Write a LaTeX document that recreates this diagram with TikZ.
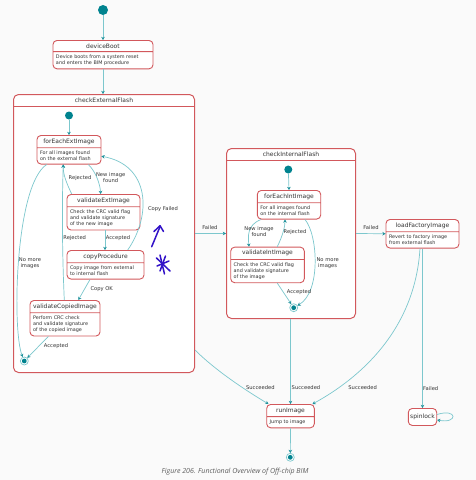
\documentclass[tikz,border=0pt]{standalone}
\usepackage{fontspec}
\setsansfont{DejaVu Sans}
\newfontfamily\capfont{Open Sans}
\usetikzlibrary{arrows.meta,positioning,shapes.multipart}
\definecolor{boxred}{HTML}{D2585C}
\definecolor{tealline}{HTML}{7CC7CD}
\definecolor{tealtip}{HTML}{1F929C}
\definecolor{tealdot}{HTML}{00838F}
\definecolor{pen}{HTML}{3212C8}
\definecolor{bggrey}{HTML}{FAFAFA}
\definecolor{txtgrey}{HTML}{333333}
\newcommand{\sttitle}[1]{{\fontsize{6}{7}\selectfont #1}}

\begin{document}
\begin{tikzpicture}[
  x=1pt, y=-1pt,
  stbox/.style={rectangle split, rectangle split parts=2, draw=boxred, line width=0.9pt,
    rounded corners=4pt, fill=white, rectangle split part align={center,left}, align=left,
    inner xsep=3pt, inner ysep=2.8pt, text=txtgrey, font=\sffamily\fontsize{4.9}{6}\selectfont},
  cont/.style={rectangle, draw=boxred, line width=1pt, rounded corners=5pt, fill=white},
  ctitle/.style={inner sep=0pt, text=txtgrey, font=\sffamily\fontsize{6}{7}\selectfont},
  startdot/.style={circle, fill=tealdot, inner sep=0pt, minimum size=#1},
  startdot/.default=8pt,
  enddot/.style={circle, draw=tealline, line width=0.7pt, fill=white, inner sep=0pt, minimum size=8pt,
    path picture={\fill[tealdot] (path picture bounding box.center) circle (2.4pt);}},
  arr/.style={draw=tealline, line width=0.7pt, -{Stealth[length=3.2pt, width=3.6pt, color=tealtip]}},
  lbl/.style={inner sep=0pt, align=center, text=txtgrey, font=\sffamily\fontsize{5.2}{6}\selectfont},
]
  \useasboundingbox[fill=bggrey] (0,0) rectangle (476,480);

  % outer states
  \node[startdot=10pt] (topInit) at (103,10) {};
  \node[stbox, minimum width=100pt, anchor=north] (deviceBoot) at (103,40)
    {\sttitle{deviceBoot}\nodepart{two}Device boots from a system reset\\and enters the BIM procedure};

  \node[cont, minimum width=181pt, minimum height=278pt, anchor=north west] (extFlash) at (13,94) {};
  \node[ctitle] (extTitle) at ([yshift=-6pt]extFlash.north) {checkExternalFlash};
  \draw[boxred, line width=1pt] ([yshift=-12pt]extFlash.north west) -- ([yshift=-12pt]extFlash.north east);

  \node[cont, minimum width=129pt, minimum height=170pt, anchor=north west] (intFlash) at (226,148) {};
  \node[ctitle] (intTitle) at ([yshift=-6pt]intFlash.north) {checkInternalFlash};
  \draw[boxred, line width=1pt] ([yshift=-12pt]intFlash.north west) -- ([yshift=-12pt]intFlash.north east);

  \node[stbox, minimum width=73pt, anchor=north] (load) at (422.5,219)
    {\sttitle{loadFactoryImage}\nodepart{two}Revert to factory image\\from external flash};
  \node[rectangle, draw=boxred, line width=0.9pt, rounded corners=4pt, fill=white, text=txtgrey,
    minimum width=28.4pt, minimum height=17pt, inner sep=1pt, font=\sffamily\fontsize{6}{7}\selectfont,
    anchor=north] (spinlock) at (422.5,408) {spinlock};
  \node[stbox, minimum width=47.6pt, anchor=north] (runImg) at (290.5,404)
    {\sttitle{runImage}\nodepart{two}Jump to image};
  \node[enddot] (endFinal) at (290.3,457.3) {};

  % inside checkExternalFlash
  \node[startdot] (extInit) at (69,115.5) {};
  \node[stbox, minimum width=64pt, anchor=north] (forExt) at (69,135)
    {\sttitle{forEachExtImage}\nodepart{two}For all images found\\on the external flash};
  \node[stbox, minimum width=73pt, anchor=north] (valExt) at (103.5,194)
    {\sttitle{validateExtImage}\nodepart{two}Check the CRC valid flag\\and validate signature\\of the new image};
  \node[stbox, minimum width=77pt, anchor=north] (copyProc) at (105.5,250)
    {\sttitle{copyProcedure}\nodepart{two}Copy image from external\\to internal flash};
  \node[stbox, minimum width=70pt, anchor=north] (valCopied) at (65,300)
    {\sttitle{validateCopiedImage}\nodepart{two}Perform CRC check\\and validate signature\\of the copied image};
  \node[enddot] (extFinal) at (24.3,361) {};

  % inside checkInternalFlash
  \node[startdot] (intInit) at (288.3,169.5) {};
  \node[stbox, minimum width=63.4pt, anchor=north] (forInt) at (289,190)
    {\sttitle{forEachIntImage}\nodepart{two}For all images found\\on the internal flash};
  \node[stbox, minimum width=73.6pt, anchor=north] (valInt) at (267.5,246.7)
    {\sttitle{validateIntImage}\nodepart{two}Check the CRC valid flag\\and validate signature\\of the image};
  \node[enddot] (intFinal) at (293.7,307.7) {};

  % transitions
  \draw[arr] (topInit) -- (deviceBoot.north);
  \draw[arr] (deviceBoot.south) -- (deviceBoot.south |- extFlash.north);
  \draw[arr] (extInit) -- (forExt.north);
  \draw[arr] ([xshift=19.3pt]forExt.south) .. controls (96,172) and (100,184) .. ([xshift=-2.8pt]valExt.north);
  \draw[arr] ([xshift=-31.8pt]valExt.north) .. controls (67,184) and (63,175) .. ([xshift=-5.7pt]forExt.south);
  \draw[arr] ([xshift=1.5pt]valExt.south) -- ([xshift=1.5pt]valExt.south |- copyProc.north);
  \draw[arr] ([xshift=22.2pt]copyProc.north) .. controls (152,215) and (150,165) .. ([yshift=-6.5pt]forExt.east);
  \draw[arr] ([xshift=-15.5pt]copyProc.south) -- ([xshift=13.3pt]valCopied.north);
  \draw[arr] ([xshift=-0.7pt]valCopied.north) .. controls (62,250) and (62,200) .. ([xshift=-5.7pt]forExt.south);
  \draw[arr] ([xshift=-22.3pt]forExt.south) .. controls (15,185) and (12,330) .. (extFinal);
  \draw[arr] ([xshift=-16.7pt]valCopied.south) -- (extFinal);
  \draw[arr] (extFlash.east |- intFlash.west) -- (intFlash.west);
  \draw[arr] (intInit) -- (forInt.north);
  \draw[arr] ([xshift=-28pt]forInt.south) .. controls (247,225) and (248,236) .. ([xshift=-18.5pt]valInt.north);
  \draw[arr] ([xshift=9.8pt]valInt.north) .. controls (283,235) and (285,226) .. ([xshift=-4pt]forInt.south);
  \draw[arr] ([xshift=9.8pt]valInt.south) -- (intFinal);
  \draw[arr] ([xshift=16pt]forInt.south) .. controls (318,235) and (321,292) .. (intFinal);
  \draw[arr] (intFlash.east) -- (load.west);
  \draw[arr] ([yshift=23pt]extFlash.south east) .. controls (215,370) and (245,390) .. ([xshift=-22pt]runImg.north);
  \draw[arr] (runImg.north |- intFlash.south) -- (runImg.north);
  \draw[arr] ([xshift=-2.5pt]load.south) .. controls (415,330) and (360,378) .. ([xshift=22pt]runImg.north);
  \draw[arr] (load.south) -- (spinlock.north);
  \draw[arr] ([yshift=2.5pt]spinlock.east) .. controls (458,408) and (458,424) .. ([yshift=-3pt]spinlock.east);
  \draw[arr] (runImg.south) -- (endFinal);

  % transition labels
  \node[lbl] (lNewExt) at (110.7,178) {New image\\found};
  \node[lbl] (lRejExt) at (80,178) {Rejected};
  \node[lbl] (lAccExt) at (118,237.7) {Accepted};
  \node[lbl] (lCopyFail) at (163,209) {Copy Failed};
  \node[lbl] (lRejCopied) at (74.7,237.7) {Rejected};
  \node[lbl] (lNoMoreExt) at (30,263) {No more\\images};
  \node[lbl] (lCopyOk) at (101.7,289) {Copy OK};
  \node[lbl] (lAccCopied) at (56,345.7) {Accepted};
  \node[lbl] (lFailExt) at (210,228) {Failed};
  \node[lbl] (lNewInt) at (259,231.7) {New image\\found};
  \node[lbl] (lRejInt) at (295,231.7) {Rejected};
  \node[lbl] (lNoMoreInt) at (327.7,263.3) {No more\\images};
  \node[lbl] (lAccInt) at (299,292) {Accepted};
  \node[lbl] (lFailInt) at (371,228) {Failed};
  \node[lbl] (lSuccExt) at (260.3,388) {Succeeded};
  \node[lbl] (lSuccInt) at (306,388) {Succeeded};
  \node[lbl] (lSuccLoad) at (362.7,388) {Succeeded};
  \node[lbl] (lFailLoad) at (430.7,388.3) {Failed};

  % pen marks
  \draw[pen, line width=1.5pt, line cap=round, line join=round] (151.7,246.7) -- (160,226.7);
  \draw[pen, line width=1.5pt, line cap=round, line join=round] (154,231.5) -- (160,225.7) -- (163.5,231.5);
  \draw[pen, line width=1.5pt, line cap=round] (160,255) -- (164.5,274);
  \draw[pen, line width=1.5pt, line cap=round] (156.5,258) -- (170,271);
  \draw[pen, line width=1.5pt, line cap=round] (157,266) -- (169,261);
  \draw[pen, line width=1.5pt, line cap=round] (165.5,256) -- (160,271);

  \node[text=txtgrey!80, font=\capfont\itshape\fontsize{7}{8}\selectfont] (caption) at (235,472)
    {Figure 206. Functional Overview of Off-chip BIM};
\end{tikzpicture}
\end{document}
